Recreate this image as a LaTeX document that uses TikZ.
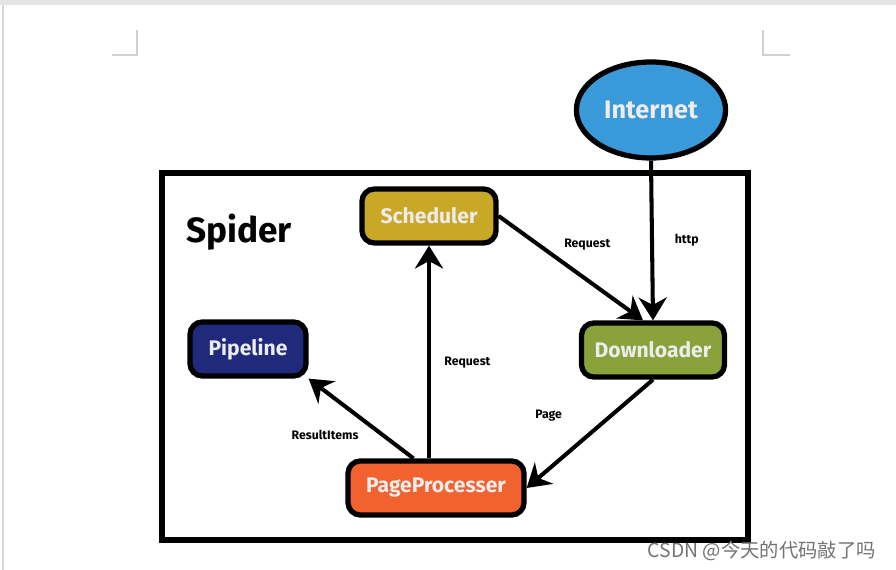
\documentclass[tikz,border=0pt]{standalone}
\usepackage{fontspec}
\setmainfont{Fira Sans}
\newfontfamily\cjk{Noto Sans CJK SC}
\usepackage{tikz}
\usetikzlibrary{arrows.meta}
\usetikzlibrary{shapes.geometric}
\definecolor{netblue}{HTML}{3A9AD9}
\definecolor{schedgold}{HTML}{C8A826}
\definecolor{pipenavy}{HTML}{1F2A7C}
\definecolor{dlgreen}{HTML}{89A23C}
\definecolor{pporange}{HTML}{F2622E}
\definecolor{nodetext}{HTML}{ECECEC}
\tikzstyle{block}=[rectangle, rounded corners=7pt, draw=black, line width=3pt, minimum height=1.08cm, font=\bfseries\large, text=nodetext]
\tikzstyle{flow}=[line width=2.3pt, -{Stealth[length=13pt,width=16pt]}]
\tikzstyle{tag}=[font=\bfseries\scriptsize]

\begin{document}
\begin{tikzpicture}[x=0.02cm, y=-0.02cm]
    \useasboundingbox (0,0) rectangle (896,570);
    \fill[white] (0,0) rectangle (896,570);
    \fill[black!10] (0,0) rectangle (896,5);
    \draw[black!15, line width=1.5pt] (3,5)--(3,570);
    \draw[black!18, line width=0.8pt] (137,30)--(137,55)--(112,55);
    \draw[black!18, line width=0.8pt] (763,30)--(763,55)--(790,55);
    \draw[line width=3pt] (162,173) rectangle (748,540);
    \node[font=\bfseries\fontsize{20}{24}\selectfont, anchor=west] (spider) at (180,232) {Spider};
    \node[ellipse, draw=black, line width=3pt, fill=netblue, minimum width=2.78cm, minimum height=1.92cm, font=\bfseries\Large, text=nodetext] (net) at (651,110) {Internet};
    \node[block, fill=schedgold, minimum width=2.68cm] (sched) at (429,216) {Scheduler};
    \node[block, fill=pipenavy, minimum width=2.32cm] (pipe) at (248,349) {Pipeline};
    \node[block, fill=dlgreen, minimum width=2.86cm] (dl) at (653,350) {Downloader};
    \node[block, fill=pporange, minimum width=3.52cm] (pp) at (436,488) {PageProcesser};
    \draw[flow] (net.south) -- (dl.north) node[pos=.5, right=0.3cm, tag] {http};
    \draw[flow] (sched.east) -- ([xshift=-0.2cm]dl.north) node[pos=.4, above right, tag] {Request};
    \draw[flow] (dl.south) -- (pp.east) node[pos=.5, above left, xshift=-0.4cm, yshift=0.1cm, tag] {Page};
    \draw[flow] (pp.north -| sched) -- (sched.south) node[pos=.45, right=0.15cm, tag] {Request};
    \draw[flow] ([xshift=-0.45cm]pp.north) -- (pipe.south east) node[pos=.45, below left, tag] {ResultItems};
    \node[anchor=east, text=black!55, font=\cjk\fontsize{11}{13}\selectfont] (mark) at (882,551) {CSDN @今天的代码敲了吗};
\end{tikzpicture}
\end{document}
